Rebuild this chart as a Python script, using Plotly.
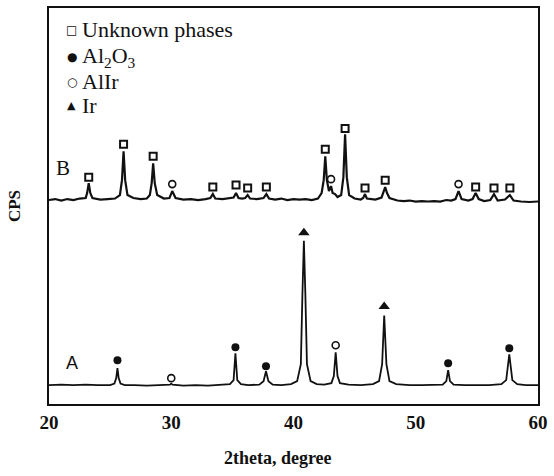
import plotly.graph_objects as go

# ---------------- data ----------------
# Pattern A (lower trace): 2theta and intensity (arbitrary CPS units)
a_x = [20.0, 21.0, 22.0, 23.0, 24.0, 25.0, 25.35, 25.5, 25.6, 25.7, 25.85, 26.2,
       27.0, 28.0, 29.0, 29.9, 30.0, 30.1, 31.0, 32.0, 33.0, 34.0, 34.8, 35.1,
       35.25, 35.4, 35.7, 36.3, 37.2, 37.55, 37.75, 37.95, 38.3, 39.0, 39.8, 40.3,
       40.6, 40.73, 40.85, 40.97, 41.1, 41.4, 41.9, 42.5, 43.1, 43.3, 43.45, 43.6,
       43.8, 44.5, 45.5, 46.5, 47.0, 47.25, 47.42, 47.6, 47.85, 48.4, 49.5, 50.5,
       51.5, 52.2, 52.5, 52.65, 52.8, 53.1, 54.0, 55.0, 56.0, 57.0, 57.4, 57.65,
       57.9, 58.3, 59.0, 60.0]
a_y = [19, 19.5, 19, 19.5, 19, 19, 20.5, 26, 36, 26, 20.5, 19,
       19, 18.5, 19, 19.5, 20.5, 19.5, 18.5, 19, 18.5, 19, 20, 24,
       51, 24, 20, 19, 19.5, 23, 33, 23, 19.5, 19, 20, 23,
       40, 110, 164, 110, 40, 23, 20, 19.5, 21, 28, 52, 28,
       21, 19.5, 19, 20, 23, 40, 89, 40, 23, 20, 19, 19,
       19, 19.5, 23, 34, 23, 19.5, 19, 19, 19, 20, 24, 50,
       24, 20, 19, 19]

# Pattern B (upper trace)
b_x = [20.0, 20.5, 21.0, 21.5, 22.0, 22.5, 23.0, 23.12, 23.25, 23.38, 23.55, 24.2,
       24.8, 25.4, 25.8, 25.97, 26.1, 26.23, 26.42, 26.9, 27.5, 28.0, 28.25, 28.4,
       28.52, 28.65, 28.85, 29.4, 29.85, 30.08, 30.35, 31.0, 31.6, 32.2, 32.8, 33.2,
       33.4, 33.6, 34.2, 34.8, 35.1, 35.3, 35.5, 35.8, 36.05, 36.25, 36.45, 37.0,
       37.55, 37.78, 38.0, 38.5, 39.0, 39.5, 40.0, 40.5, 41.0, 41.5, 42.0, 42.3,
       42.47, 42.6, 42.73, 42.9, 43.07, 43.2, 43.4, 43.6, 43.9, 44.08, 44.22, 44.36,
       44.55, 45.0, 45.5, 45.7, 45.85, 46.0, 46.7, 47.2, 47.35, 47.5, 47.65, 47.85,
       48.5, 49.0, 49.5, 50.0, 50.5, 51.0, 51.5, 52.0, 52.5, 52.9, 53.25, 53.5,
       53.75, 54.3, 54.65, 54.9, 55.15, 55.6, 56.1, 56.4, 56.7, 57.3, 57.7, 58.0,
       58.6, 59.3, 60.0]
b_y = [205, 206, 204.5, 206, 205, 206.5, 207, 212, 222, 212, 207, 205.5,
       206, 206.5, 210, 225, 254, 225, 210, 207, 206, 206.5, 210, 222,
       242, 222, 210, 206.5, 207, 214, 207, 205.5, 206, 205, 206, 207,
       211, 206.5, 206, 206.5, 207.5, 212, 207, 206.5, 207, 210, 206.5, 206,
       207, 211, 206.5, 205.5, 206.5, 205, 206, 205.5, 206, 205, 206.5, 212,
       225, 249, 225, 214, 219, 212, 211, 208, 210, 228, 271, 228,
       210, 206.5, 205.5, 207, 211, 206.5, 205.5, 207.5, 212, 218, 212, 207,
       204.5, 204, 204.5, 203.5, 204, 203.5, 204, 203.5, 205, 204.5, 206, 214,
       206, 204.5, 206, 212, 206, 204, 205, 211, 204.5, 205.5, 210, 204.5,
       203.5, 203, 203.5]

# Phase markers
unk_x = [23.25, 26.1, 28.52, 33.4, 35.3, 36.25, 37.78, 42.6, 44.22, 45.85, 47.5, 54.9, 56.4, 57.7]
unk_y = [228, 261, 249, 218, 220, 217, 218, 256, 277, 217, 225, 218, 217, 217]
al2o3_x = [25.6, 35.25, 37.75, 52.65, 57.65]
al2o3_y = [44, 57, 38, 41, 56]
alir_x = [30.0, 43.45, 30.08, 43.07, 53.5]
alir_y = [26, 59, 221, 226, 221]
ir_x = [40.85, 47.42]
ir_y = [172, 98]

x_ticks = [20, 30, 40, 50, 60]
legend_names = ["Unknown phases", "Al<sub>2</sub>O<sub>3</sub>", "AlIr", "Ir"]
legend_glyphs = ["□", "●", "○", "▲"]

# ---------------- figure ----------------
ink = "#111111"
fig = go.Figure()
fig.add_trace(go.Scatter(x=a_x, y=a_y, mode="lines", line=dict(color=ink, width=1.8),
                         showlegend=False, hoverinfo="skip"))
fig.add_trace(go.Scatter(x=b_x, y=b_y, mode="lines", line=dict(color=ink, width=2.2),
                         showlegend=False, hoverinfo="skip"))
fig.add_trace(go.Scatter(x=unk_x, y=unk_y, mode="markers", name="Unknown phases",
                         marker=dict(symbol="square-open", size=7, color=ink, line=dict(width=2))))
fig.add_trace(go.Scatter(x=al2o3_x, y=al2o3_y, mode="markers", name="Al2O3",
                         marker=dict(symbol="circle", size=8, color=ink)))
fig.add_trace(go.Scatter(x=alir_x, y=alir_y, mode="markers", name="AlIr",
                         marker=dict(symbol="circle-open", size=7, color=ink, line=dict(width=1.6))))
fig.add_trace(go.Scatter(x=ir_x, y=ir_y, mode="markers", name="Ir",
                         marker=dict(symbol="triangle-up", size=10, color=ink)))

serif = "Liberation Serif, Times New Roman, serif"
annotations = []
leg_rows_y = [0.945, 0.877, 0.814, 0.754]
glyph_sizes = [12, 12, 12, 11]
for name, glyph, gy, gs in zip(legend_names, legend_glyphs, leg_rows_y, glyph_sizes):
    annotations.append(dict(
        xref="paper", yref="paper", x=0.0467, y=gy, xanchor="center", yanchor="middle",
        text=glyph, showarrow=False,
        font=dict(family="DejaVu Sans", size=gs, color=ink)))
    annotations.append(dict(
        xref="paper", yref="paper", x=0.064, y=gy, xanchor="left", yanchor="middle",
        text=name, showarrow=False, font=dict(family=serif, size=22, color=ink)))

annotations += [
    dict(xref="x", yref="y", x=21.14, y=237, text="B", showarrow=False,
         font=dict(family=serif, size=21, color=ink)),
    dict(xref="x", yref="y", x=21.85, y=41, text="A", showarrow=False,
         font=dict(family="Liberation Sans, Arial, sans-serif", size=18, color=ink)),
]

fig.update_layout(
    width=554, height=476,
    margin=dict(l=49, r=13, t=6, b=72, pad=0),
    paper_bgcolor="white", plot_bgcolor="white",
    showlegend=False,
    annotations=annotations,
    xaxis=dict(range=[20, 60], tickvals=x_ticks, ticktext=[str(t) for t in x_ticks],
               ticks="", showgrid=False, zeroline=False, showline=True, mirror=True,
               linecolor=ink, linewidth=2,
               title=dict(text="<b>2theta, degree</b>&nbsp;&nbsp;&nbsp;&nbsp;&nbsp;&nbsp;&nbsp;",
                          standoff=20, font=dict(family=serif, size=18, color=ink)),
               tickfont=dict(family=serif, size=19, color=ink, weight="bold")),
    yaxis=dict(range=[0, 398], showticklabels=False, ticks="", showgrid=False,
               zeroline=False, showline=True, mirror=True, linecolor=ink, linewidth=2,
               title=dict(text="<b>CPS</b>", standoff=22,
                          font=dict(family=serif, size=17, color=ink))),
)

fig.write_html("out.html")
